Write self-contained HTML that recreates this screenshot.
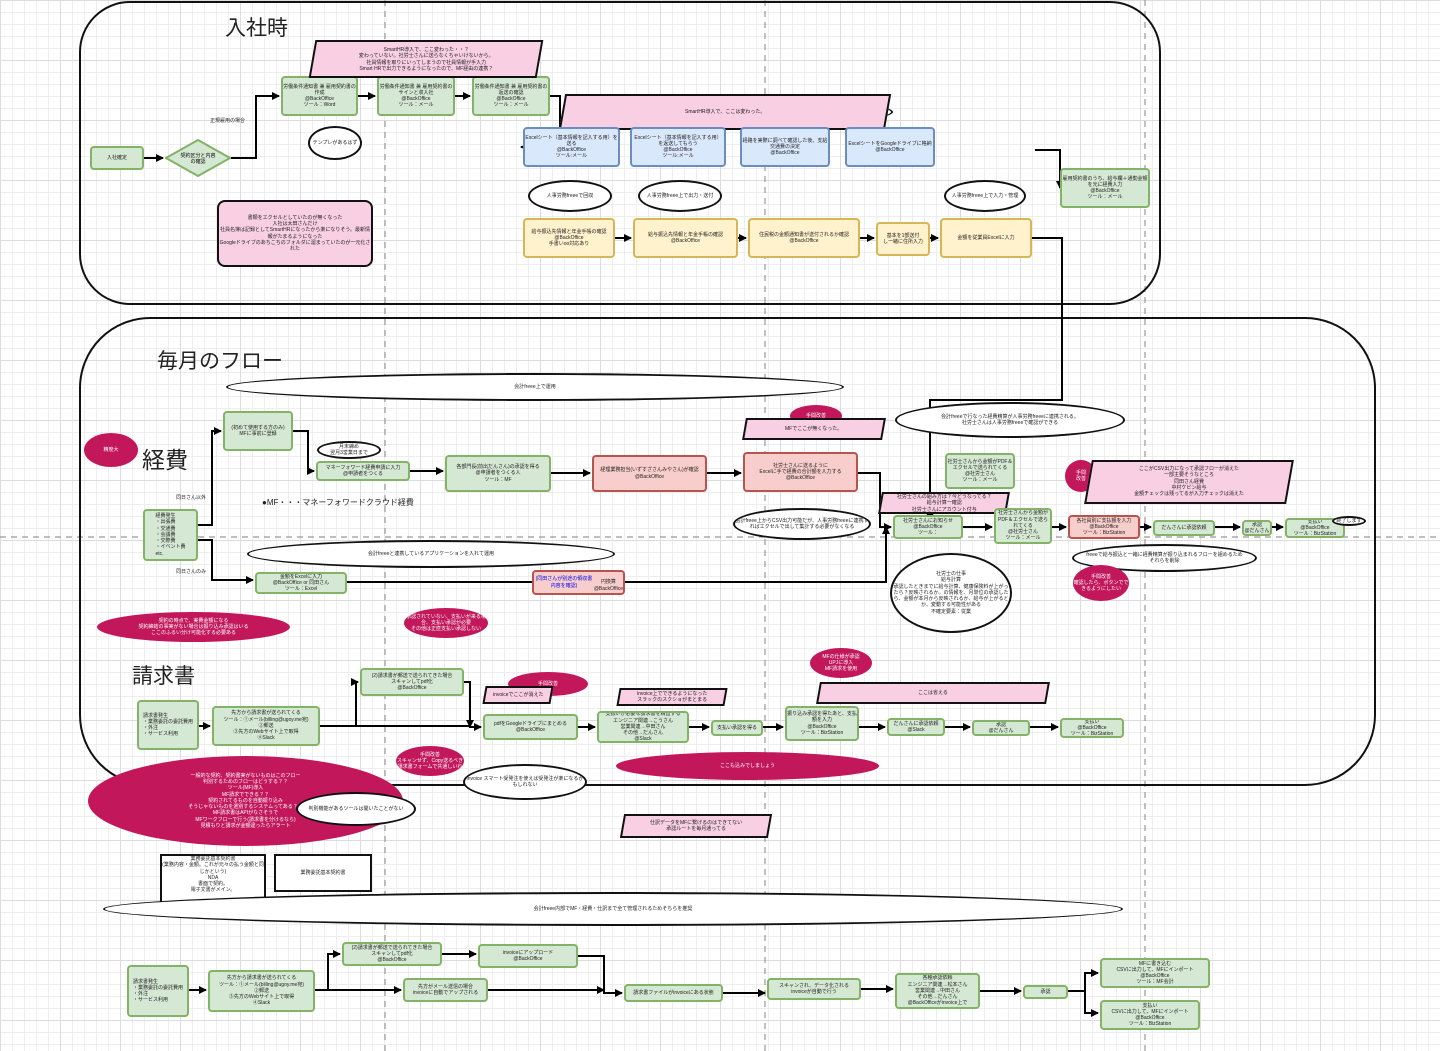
<!DOCTYPE html>
<html><head><meta charset="utf-8"><style>
*{margin:0;padding:0;box-sizing:border-box}
body{width:1440px;height:1051px;position:relative;overflow:hidden;background:#fff;font-family:"Liberation Sans","Noto Sans CJK JP",sans-serif;
background-image:linear-gradient(#dcdcdc 1px,transparent 1px),linear-gradient(90deg,#dcdcdc 1px,transparent 1px),linear-gradient(#eeeeee 1px,transparent 1px),linear-gradient(90deg,#eeeeee 1px,transparent 1px);
background-size:60px 60px,60px 60px,12px 12px,12px 12px}
.a{position:absolute;display:flex;align-items:center;justify-content:center;text-align:center;font-size:5px;line-height:1.25;color:#222;overflow:hidden}
.g{background:#d5e8d4;border:2px solid #82b366;border-radius:4px}
.b{background:#dae8fc;border:2px solid #6c8ebf;border-radius:4px}
.y{background:#fff2cc;border:2px solid #d6b656;border-radius:4px}
.r{background:#f8cecc;border:2px solid #b85450;border-radius:4px}
.p{background:#f8cfe3;border:2px solid #111;border-radius:8px}
.e{background:#fff;border:2px solid #111;border-radius:50%}
.m{background:#c2185b;color:#fff;border-radius:50%}
.w{background:#fff;border:2px solid #111}
.pa{background:#f8cfe3;border:2px solid #111;transform:skewX(-10deg)}
.pa span{transform:skewX(10deg)}
.t{position:absolute;font-family:"Liberation Sans","Noto Sans CJK JP",sans-serif;color:#222}
</style></head><body>
<svg width="1440" height="1051" style="position:absolute;left:0;top:0">
<defs><marker id="ar" markerUnits="userSpaceOnUse" markerWidth="8" markerHeight="8" refX="7" refY="4" orient="auto"><path d="M0,0L8,4L0,8z" fill="#000"/></marker></defs>
<g stroke="#999" stroke-dasharray="6,5" stroke-width="1.2" fill="none">
<line x1="385" y1="0" x2="385" y2="1051"/><line x1="765" y1="0" x2="765" y2="1051"/><line x1="1145" y1="0" x2="1145" y2="1051"/><line x1="0" y1="537" x2="1440" y2="537"/></g>
<rect x="80" y="2" width="1080" height="302" rx="50" fill="none" stroke="#111" stroke-width="2"/>
<rect x="80" y="318" width="1295" height="467" rx="70" fill="none" stroke="#111" stroke-width="2"/>
<g stroke="#000" stroke-width="2" fill="none" marker-end="url(#ar)">
<path d="M144,158H163"/><path d="M231,158H256V96H279"/><path d="M358,96H375"/><path d="M455,96H470"/>
<path d="M550,96H560V147H521"/><path d="M615,238H631"/><path d="M738,238H746"/><path d="M860,238H874"/><path d="M930,238H938"/>
<path d="M1032,238H1062V400H930V520"/><path d="M1035,150H1060V188"/>
<path d="M198,525H212V431H221"/><path d="M198,540H212V580H253"/><path d="M293,431H308V471H314"/>
<path d="M410,471H443"/><path d="M551,473H590"/><path d="M707,473H741"/><path d="M858,473H880V527H891"/>
<path d="M347,582H886V527"/><path d="M963,527H992"/><path d="M1052,527H1066"/><path d="M1140,527H1151"/><path d="M1215,527H1240"/><path d="M1272,527H1283"/>
<path d="M199,726H210"/><path d="M320,726H356V682H358"/><path d="M320,726H470V727H481"/><path d="M464,682H470V727"/>
<path d="M578,727H595"/><path d="M689,727H709"/><path d="M763,727H783"/><path d="M859,727H885"/><path d="M945,727H970"/><path d="M1030,727H1058"/>
<path d="M189,990H206"/><path d="M315,990H328V954H340"/><path d="M328,990V990H401"/><path d="M442,954H476"/><path d="M578,956H604V993H622"/><path d="M488,990H604"/>
<path d="M723,993H765"/><path d="M861,989H893"/><path d="M980,991H1021"/><path d="M1068,991H1085V973H1098"/><path d="M1085,991V1013H1098"/>
</g></svg>

<div class="t" style="left:225px;top:12px;font-size:21px">入社時</div>
<div class="t" style="left:157px;top:345px;font-size:21px">毎月のフロー</div>
<div class="t" style="left:142px;top:441px;font-size:23px">経費</div>
<div class="t" style="left:132px;top:660px;font-size:21px">請求書</div>
<div class="t" style="left:262px;top:497px;font-size:8px">●MF・・・マネーフォワードクラウド経費</div>
<div class="t" style="left:210px;top:117px;font-size:5px">正規雇用の場合</div>
<div class="t" style="left:176px;top:494px;font-size:5px">同日さん以外</div>
<div class="t" style="left:176px;top:568px;font-size:5px">同日さんのみ</div>

<div class="a g" style="left:90px;top:146px;width:54px;height:24px">入社確定</div>
<svg style="position:absolute;left:165px;top:139px" width="66" height="38"><polygon points="33,1 65,19 33,37 1,19" fill="#d5e8d4" stroke="#82b366" stroke-width="2"/><text x="33" y="18" font-size="5" text-anchor="middle" font-family="Liberation Sans,Noto Sans CJK JP,sans-serif">契約区分と内容</text><text x="33" y="24" font-size="5" text-anchor="middle" font-family="Liberation Sans,Noto Sans CJK JP,sans-serif">の確認</text></svg>
<div class="a g" style="left:281px;top:76px;width:77px;height:40px">労働条件通知書 兼 雇用契約書の作成<br>@BackOffice<br>ツール：Word</div>
<div class="a g" style="left:377px;top:76px;width:78px;height:40px">労働条件通知書 兼 雇用契約書のサインと収入社<br>@BackOffice<br>ツール：メール</div>
<div class="a g" style="left:472px;top:76px;width:78px;height:40px">労働条件通知書 兼 雇用契約書の返送の確認<br>@BackOffice<br>ツール：メール</div>
<div class="a pa" style="left:312px;top:40px;width:228px;height:38px"><span>SmartHR導入で、ここ変わった・・？<br>変わっていない。社労士さんに送らなくちゃいけないから。<br>社員情報を取りにいってしまうので社員情報が手入力<br>Smart HRで出力できるようになったので、MF経由の連携？</span></div>
<div class="a e" style="left:308px;top:126px;width:54px;height:34px">テンプレがあるはず</div>
<div class="a p" style="left:217px;top:200px;width:156px;height:67px">書類をエクセルとしていたのが無くなった<br>入社は太田さんだけ<br>社員名簿は記録としてSmartHRになったから楽になりそう。最新情報がたまるようになった<br>Googleドライブのあちこちのフォルダに溜まっていたのが一元化された</div>
<div class="a e" style="left:565px;top:98px;width:328px;height:28px"></div>
<div class="a pa" style="left:562px;top:94px;width:326px;height:36px"><span>SmartHR導入で、ここは変わった。</span></div>
<div class="a b" style="left:523px;top:127px;width:97px;height:40px">Excelシート（基本情報を記入する用）を送る<br>@BackOffice<br>ツール:メール</div>
<div class="a b" style="left:630px;top:127px;width:96px;height:40px">Excelシート（基本情報を記入する用）を返送してもらう<br>@BackOffice<br>ツール:メール</div>
<div class="a b" style="left:740px;top:127px;width:90px;height:40px">経路を実際に調べて確認した後、支給交通費の決定<br>@BackOffice</div>
<div class="a b" style="left:845px;top:127px;width:90px;height:40px">ExcelシートをGoogleドライブに格納<br>@BackOffice</div>
<div class="a e" style="left:528px;top:180px;width:84px;height:32px">人事労務freeeで回収</div>
<div class="a e" style="left:638px;top:180px;width:84px;height:32px">人事労務freee上で出力・送付</div>
<div class="a e" style="left:944px;top:180px;width:82px;height:32px">人事労務freee上で入力・管理</div>
<div class="a y" style="left:523px;top:218px;width:92px;height:40px">給与振込先情報と年金手帳の確認<br>@BackOffice<br>手書いoo対応あり</div>
<div class="a y" style="left:633px;top:218px;width:105px;height:40px">給与振込先情報と年金手帳の確認<br>@BackOffice</div>
<div class="a y" style="left:748px;top:218px;width:112px;height:40px">住民税の金額通知書が送付されるか確認<br>@BackOffice</div>
<div class="a y" style="left:876px;top:222px;width:54px;height:34px">基本を1部送付<br>し一緒に住所入力</div>
<div class="a y" style="left:940px;top:218px;width:92px;height:40px">金額を従業員Excelに入力</div>
<div class="a g" style="left:1060px;top:168px;width:90px;height:40px">雇用契約書のうち、給与欄＋通勤金額を元に経費入力<br>@BackOffice<br>ツール：メール</div>

<div class="a e" style="left:226px;top:373px;width:618px;height:28px">会計freee上で運用</div>
<div class="a g" style="left:223px;top:411px;width:70px;height:40px">(初めて使用する方のみ)<br>MFに事前に登録</div>
<div class="a e" style="left:317px;top:441px;width:64px;height:18px">月末締め<br>翌月3営業日まで</div>
<div class="a m" style="left:84px;top:433px;width:54px;height:34px">精度大</div>
<div class="a g" style="left:143px;top:509px;width:55px;height:52px;text-align:left">経費発生<br>・出張費<br>・交通費<br>・会議費<br>・交際費<br>・イベント費<br>etc.</div>
<div class="a g" style="left:316px;top:461px;width:94px;height:20px">マネーフォワード経費申請に入力<br>@申請者をつくる</div>
<div class="a g" style="left:445px;top:455px;width:106px;height:37px">各部門長(前出だんさん)の承認を得る<br>@申請者をつくる人<br>ツール：MF</div>
<div class="a r" style="left:592px;top:455px;width:115px;height:37px">経理業務担当(いずすざさんみやさん)が確認<br>@BackOffice</div>
<div class="a m" style="left:790px;top:405px;width:52px;height:22px">手間改善</div>
<div class="a r" style="left:743px;top:452px;width:115px;height:40px">社労士さんに送るように<br>Excelに手で経費の合計額を入力する<br>@BackOffice</div>
<div class="a pa" style="left:744px;top:418px;width:140px;height:22px"><span>MFでここが無くなった。</span></div>
<div class="a e" style="left:895px;top:402px;width:230px;height:36px">会計freeeで行なった経費精算が人事労務freeeに連携される。<br>社労士さんは人事労務freeeで確認ができる</div>
<div class="a g" style="left:945px;top:453px;width:70px;height:36px">社労士さんから金額がPDF＆エクセルで送られてくる<br>@社労士さん<br>ツール：メール</div>
<div class="a e" style="left:733px;top:508px;width:138px;height:32px">会計freee上からCSV出力可能だが、人事労務freeeに連携すればエクセルで出して集計する必要がなくなる</div>
<div class="a g" style="left:893px;top:515px;width:70px;height:24px">社労士さんにお知らせ<br>@BackOffice<br>ツール：</div>
<div class="a pa" style="left:880px;top:492px;width:128px;height:22px"><span>社労士さんの組み方は？今どうなってる？<br>給与計算一確認<br>社労士さんにアカウント付与</span></div>
<div class="a g" style="left:994px;top:508px;width:58px;height:36px">社労士さんから金額がPDF＆エクセルで送られてくる<br>@社労士さん<br>ツール：メール</div>
<div class="a m" style="left:1065px;top:460px;width:32px;height:32px">手間<br>改善</div>
<div class="a pa" style="left:1088px;top:460px;width:202px;height:44px"><span>ここがCSV出力になって承認フローが消えた<br>一部主要そうなところ<br>同田さん経費<br>中村ケビン給与<br>金額チェックは残ってるが入力チェックは消えた</span></div>
<div class="a r" style="left:1068px;top:515px;width:72px;height:24px">各社員別に支払額を入力<br>@BackOffice<br>ツール：BizStation</div>
<div class="a g" style="left:1153px;top:520px;width:62px;height:16px">だんさんに承認依頼</div>
<div class="a g" style="left:1242px;top:520px;width:30px;height:16px">承認<br>@だんさん</div>
<div class="a g" style="left:1285px;top:518px;width:60px;height:20px">支払い<br>@BackOffice<br>ツール：BizStation</div>
<div class="a e" style="left:1332px;top:516px;width:34px;height:10px">終了します</div>
<div class="a e" style="left:247px;top:540px;width:368px;height:28px">会計freeeと連携しているアプリケーションを入れて運用</div>
<div class="a g" style="left:255px;top:572px;width:92px;height:22px">金額をExcelに入力<br>@BackOffice or 同田さん<br>ツール：Excel</div>
<div class="a r" style="left:532px;top:570px;width:93px;height:25px"><span style="color:#00e">(同田さんが別途の領収書内容を確認)</span><br>円換算<br>@BackOffice</div>
<div class="a e" style="left:890px;top:553px;width:122px;height:80px">社労士の仕事<br>給与計算<br>承認したときまでに給与計算、健康保険料が上がったら？反映されるか。の情報を、月単位の承認したら、金額が本月から反映されるか、給与が上がるとか、変動する可能性がある<br>不確定要素：従業</div>
<div class="a e" style="left:1072px;top:544px;width:185px;height:28px">freeeで給与振込と一緒に経費精算が振り込まれるフローを組めるため<br>それらを削除</div>
<div class="a m" style="left:1073px;top:565px;width:56px;height:36px">手間改善<br>確認したら、ボタンでできるようにしたい</div>
<div class="a m" style="left:97px;top:612px;width:193px;height:30px">契約の時点で、実費金額になる<br>契約締結の事実がない場合は振り込み承認はいる<br>ここのふるい分け可能化する必要ある</div>
<div class="a m" style="left:404px;top:608px;width:84px;height:30px">承認されていない、支払いが来る場合、支払い承認が必要<br>その他は正直支払い承認しない</div>

<div class="a m" style="left:810px;top:648px;width:62px;height:30px">MFの仕様が承認<br>UPJに導入<br>MF請求を使用</div>
<div class="a pa" style="left:818px;top:682px;width:230px;height:22px"><span>ここは省える</span></div>
<div class="a g" style="left:360px;top:668px;width:104px;height:28px">(2)請求書が郵送で送られてきた場合<br>スキャンしてpdf化<br>@BackOffice</div>
<div class="a m" style="left:508px;top:672px;width:80px;height:24px">手間改善</div>
<div class="a pa" style="left:484px;top:686px;width:68px;height:18px"><span>invoiceでここが消えた</span></div>
<div class="a pa" style="left:618px;top:688px;width:108px;height:18px"><span>invoice上でできるようになった<br>スラックのスクショがまとまる</span></div>
<div class="a g" style="left:137px;top:700px;width:62px;height:50px;text-align:left">請求書発生<br>・業務委託の委託費用<br>・外注<br>・サービス利用</div>
<div class="a g" style="left:212px;top:706px;width:108px;height:40px">先方から請求書が送られてくる<br>ツール：①メール(billing@ugoy.me宛)<br>②郵送<br>③先方のWebサイト上で取得<br>④Slack</div>
<div class="a g" style="left:483px;top:714px;width:95px;height:26px">pdfをGoogleドライブにまとめる<br>@BackOffice</div>
<div class="a g" style="left:597px;top:711px;width:92px;height:32px">支払いが必要な請求書を精査する<br>エンジニア関連→こうさん<br>営業関連→中田さん<br>その他→だんさん<br>@Slack</div>
<div class="a g" style="left:711px;top:720px;width:52px;height:16px">支払い承認を得る</div>
<div class="a g" style="left:785px;top:706px;width:74px;height:35px">振り込み承認を得たあと、支払額を入力<br>@BackOffice<br>ツール：BizStation</div>
<div class="a g" style="left:887px;top:718px;width:58px;height:18px">だんさんに承認依頼<br>@Slack</div>
<div class="a g" style="left:972px;top:720px;width:58px;height:16px">承認<br>@だんさん</div>
<div class="a g" style="left:1060px;top:718px;width:64px;height:20px">支払い<br>@BackOffice<br>ツール：BizStation</div>
<div class="a m" style="left:616px;top:752px;width:263px;height:28px">ここも込みでしましょう</div>
<div class="a m" style="left:396px;top:746px;width:68px;height:30px">手間改善<br>スキャンせず、Copy送るべき請求書フォームで共通しいれ</div>
<div class="a e" style="left:463px;top:764px;width:124px;height:36px">invoice スマート受発注を使えば受発注が楽になるかもしれない</div>
<div class="a m" style="left:88px;top:756px;width:315px;height:90px">一般的な契約、契約書実がないものはこのフロー<br>判別するためのフローはどうする？？<br>ツール(MF)導入<br>MF請求でできる？？<br>契約されてるものを自動振り込み<br>そうじゃないものを選別するシステムってある？？<br>MF請求書はAPIがなさそうで<br>MFワークフローで行う(請求書を分けるなら)<br>見積もりと請求が金額違ったらアラート</div>
<div class="a e" style="left:296px;top:792px;width:120px;height:34px">判別機能があるツールは聞いたことがない</div>
<div class="a pa" style="left:622px;top:814px;width:148px;height:24px"><span>仕訳データをMFに繋げるのはできてない<br>承認ルートを毎月通ってる</span></div>

<div class="a w" style="left:160px;top:854px;width:106px;height:54px">業務委託基本契約書<br>(業務内容・金額。これが元々の払う金額と同じかという)<br>NDA<br>書面で契約。<br>電子文書がメイン。<br><br>定額なのは。</div>
<div class="a w" style="left:274px;top:854px;width:98px;height:38px">業務委託基本契約書</div>
<div class="a e" style="left:103px;top:892px;width:1020px;height:34px">会計freee内部でMF・経費・仕訳まで全て管理されるためそちらを推奨</div>
<div class="a g" style="left:127px;top:965px;width:62px;height:52px;text-align:left">請求書発生<br>・業務委託の委託費用<br>・外注<br>・サービス利用</div>
<div class="a g" style="left:208px;top:970px;width:107px;height:42px">先方から請求書が送られてくる<br>ツール：①メール(billing@ugoy.me宛)<br>②郵送<br>③先方のWebサイト上で取得<br>④Slack</div>
<div class="a g" style="left:342px;top:942px;width:100px;height:24px">(2)請求書が郵送で送られてきた場合<br>スキャンしてpdf化<br>@BackOffice</div>
<div class="a g" style="left:478px;top:944px;width:100px;height:24px">invoiceにアップロード<br>@BackOffice</div>
<div class="a g" style="left:403px;top:978px;width:85px;height:24px">先方がメール送信の場合<br>invoiceに自動でアップされる</div>
<div class="a g" style="left:624px;top:984px;width:99px;height:18px">請求書ファイルがinvoiceにある状態</div>
<div class="a g" style="left:767px;top:978px;width:94px;height:22px">スキャンされ、データ化される<br>invoiceが自動で行う</div>
<div class="a g" style="left:895px;top:973px;width:85px;height:36px">各種承認依頼<br>エンジニア関連→松本さん<br>営業関連→中田さん<br>その他→だんさん<br>@BackOfficeがinvoice上で</div>
<div class="a g" style="left:1023px;top:985px;width:45px;height:14px">承認</div>
<div class="a g" style="left:1100px;top:958px;width:110px;height:30px">MFに書き込む<br>CSVに出力して、MFにインポート<br>@BackOffice<br>ツール：MF会計</div>
<div class="a g" style="left:1100px;top:1000px;width:100px;height:30px">支払い<br>CSVに出力して、MFにインポート<br>@BackOffice<br>ツール：BizStation</div>
</body></html>
